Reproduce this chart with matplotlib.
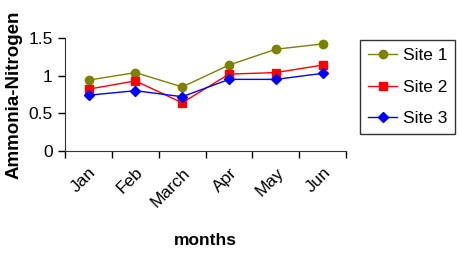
import numpy as np
import matplotlib.pyplot as plt

plt.rcParams['font.family'] = ['Liberation Sans', 'DejaVu Sans']

months = ['Jan', 'Feb', 'March', 'Apr', 'May', 'Jun']
site1 = [0.94, 1.04, 0.85, 1.14, 1.35, 1.42]
site2 = [0.82, 0.93, 0.64, 1.02, 1.04, 1.14]
site3 = [0.74, 0.80, 0.72, 0.95, 0.95, 1.03]

x = np.arange(len(months))

fig = plt.figure(figsize=(4.59, 2.56), dpi=100)
ax = fig.add_axes([0.142, 0.41, 0.612, 0.442])

ax.plot(x, site1, color='#808000', marker='o', markersize=6, linewidth=1, label='Site 1')
ax.plot(x, site2, color='#ff0000', marker='s', markersize=6, linewidth=1, label='Site 2')
ax.plot(x, site3, color='#0000ff', marker='D', markersize=5, linewidth=1, label='Site 3')

ax.set_xlim(-0.5, len(months) - 0.5)
ax.set_ylim(0, 1.5)
ax.set_yticks([0, 0.5, 1, 1.5])
ax.set_yticklabels(['0', '0.5', '1', '1.5'])
ax.set_xticks(x)
ax.set_xticklabels(months, rotation=45, ha='right', rotation_mode='anchor')
ax.set_xticks(np.arange(-0.5, len(months)), minor=True)
ax.tick_params(axis='x', which='major', length=0, pad=10, labelsize=12.5)
ax.tick_params(axis='x', which='minor', length=5, width=1, direction='out')
ax.tick_params(axis='y', length=5, width=1, direction='out', labelsize=12.5, pad=4)

for side in ['top', 'right']:
    ax.spines[side].set_visible(False)
for side in ['left', 'bottom']:
    ax.spines[side].set_color('#333333')

ax.set_ylabel('Ammonia-Nitrogen', fontsize=13.5, fontweight='bold', labelpad=4)
ax.set_xlabel('months', fontsize=12.5, fontweight='bold', labelpad=17)

leg = ax.legend(loc='upper left', bbox_to_anchor=(1.05, 0.98), fontsize=12.5,
                frameon=True, fancybox=False, edgecolor='black',
                handlelength=1.7, handletextpad=0.3, borderpad=0.45,
                labelspacing=0.95, borderaxespad=0)
leg.get_frame().set_linewidth(1)

plt.savefig('out.png', dpi=100)
